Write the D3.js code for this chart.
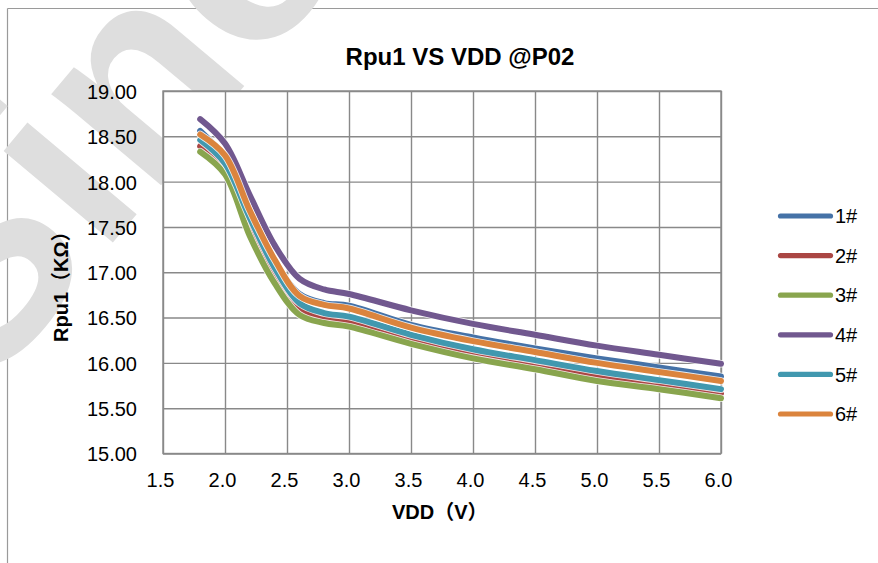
<!DOCTYPE html>
<html>
<head>
<meta charset="utf-8">
<script src="https://cdn.jsdelivr.net/npm/d3@7/dist/d3.min.js"></script>
<style>
  html, body { margin: 0; padding: 0; background: #fff; }
  svg { display: block; }
  text { font-family: "Liberation Sans", Arial, "Noto Sans CJK SC", sans-serif; fill: #000; }
</style>
</head>
<body>
<svg id="chart" width="878" height="563"></svg>
<script>
// ---- data ----
const vdd = [1.8, 2.0, 2.2, 2.4, 2.6, 2.8, 3.0, 3.5, 4.0, 4.5, 5.0, 5.5, 6.0];
const s1 = [18.56, 18.26, 17.66, 17.12, 16.76, 16.66, 16.63, 16.42, 16.28, 16.16, 16.05, 15.95, 15.85];
const s2 = [18.39, 18.15, 17.52, 16.98, 16.60, 16.49, 16.46, 16.26, 16.10, 15.98, 15.86, 15.76, 15.66];
const s3 = [18.33, 18.08, 17.40, 16.88, 16.53, 16.44, 16.40, 16.21, 16.05, 15.93, 15.80, 15.71, 15.61];
const s4 = [18.69, 18.42, 17.85, 17.30, 16.93, 16.81, 16.76, 16.58, 16.43, 16.31, 16.19, 16.09, 15.99];
const s5 = [18.46, 18.20, 17.60, 17.05, 16.66, 16.55, 16.51, 16.31, 16.15, 16.03, 15.91, 15.81, 15.71];
const s6 = [18.52, 18.29, 17.68, 17.14, 16.74, 16.64, 16.60, 16.39, 16.24, 16.12, 16.00, 15.90, 15.80];
const seriesNames = ["1#", "2#", "3#", "4#", "5#", "6#"];
const seriesValues = [s1, s2, s3, s4, s5, s6];
const xTicks = [1.5, 2.0, 2.5, 3.0, 3.5, 4.0, 4.5, 5.0, 5.5, 6.0];
const yTicks = [15.0, 15.5, 16.0, 16.5, 17.0, 17.5, 18.0, 18.5, 19.0];
const titleText = "Rpu1 VS VDD @P02";
const xTitle = "VDD（V）";
const yTitle = "Rpu1（KΩ）";
const watermarkText = "Sino";

// ---- style ----
const colors = ["#4572A7", "#AA4643", "#89A54E", "#71588F", "#4198AF", "#DB843D"];
const svg = d3.select("#chart");
const L = 163, R = 721, T = 91, B = 453.5;

const x = d3.scaleLinear().domain([1.5, 6.0]).range([L, R]);
const y = d3.scaleLinear().domain([15, 19]).range([B, T]);

// outer frame
svg.append("line").attr("x1", 7.5).attr("y1", 8.5).attr("x2", 878).attr("y2", 8.5)
  .attr("stroke", "#9a9a9a").attr("stroke-width", 1.2);
svg.append("line").attr("x1", 7.5).attr("y1", 8.5).attr("x2", 7.5).attr("y2", 563)
  .attr("stroke", "#9a9a9a").attr("stroke-width", 1.2);

// watermark (behind the white plot area)
svg.append("text")
  .attr("transform", "translate(-15,395) rotate(-50)")
  .attr("font-size", 270).attr("font-weight", "bold")
  .style("fill", "#dedede")
  .text(watermarkText);

// plot area
svg.append("rect").attr("x", L).attr("y", T).attr("width", R - L).attr("height", B - T)
  .attr("fill", "#fff");

// axes / grid
const gx = svg.append("g").attr("transform", `translate(0,${B})`)
  .call(d3.axisBottom(x).tickValues(xTicks).tickFormat(d3.format(".1f"))
    .tickSizeInner(-(B - T)).tickSizeOuter(0));
gx.select(".domain").remove();
gx.selectAll("line").attr("stroke", "#898989").attr("stroke-width", 1.4);
gx.selectAll("text").attr("y", 33).attr("dy", 0).attr("x", -3)
  .attr("font-size", 20).style("font-family", "'Liberation Sans', Arial, sans-serif").style("fill", "#000");

const gy = svg.append("g").attr("transform", `translate(${L},0)`)
  .call(d3.axisLeft(y).tickValues(yTicks).tickFormat(d3.format(".2f"))
    .tickSizeInner(-(R - L)).tickSizeOuter(0));
gy.select(".domain").remove();
gy.selectAll("line").attr("stroke", "#898989").attr("stroke-width", 1.4);
gy.selectAll("text").attr("x", -26).attr("dy", "0.37em")
  .attr("font-size", 20).style("font-family", "'Liberation Sans', Arial, sans-serif").style("fill", "#000");

svg.append("rect").attr("x", L).attr("y", T).attr("width", R - L).attr("height", B - T)
  .attr("fill", "none").attr("stroke", "#898989").attr("stroke-width", 1.4);

// lines
const line = d3.line().x(d => x(d[0])).y(d => y(d[1])).curve(d3.curveCatmullRom.alpha(0.5));
seriesValues.forEach((vals, i) => {
  const pts = vdd.map((v, j) => [v, vals[j]]);
  svg.append("path").attr("d", line(pts)).attr("fill", "none")
    .attr("stroke", "#ffffff").attr("stroke-opacity", 0.85).attr("stroke-width", 7.6)
    .attr("stroke-linecap", "round").attr("stroke-linejoin", "round");
  svg.append("path").attr("d", line(pts)).attr("fill", "none")
    .attr("stroke", colors[i]).attr("stroke-width", 6)
    .attr("stroke-linecap", "round").attr("stroke-linejoin", "round");
});

// legend
const legY0 = 216, legStep = 39.6;
seriesNames.forEach((name, i) => {
  const yy = legY0 + i * legStep;
  svg.append("line").attr("x1", 780.5).attr("x2", 830.5).attr("y1", yy).attr("y2", yy)
    .attr("stroke", colors[i]).attr("stroke-width", 5.2).attr("stroke-linecap", "round");
  svg.append("text").attr("x", 835).attr("y", yy + 7.2).attr("font-size", 20).text(name);
});

// titles
svg.append("text").attr("x", 460).attr("y", 65).attr("text-anchor", "middle")
  .attr("font-size", 24).attr("font-weight", "bold").text(titleText);
svg.append("text").attr("x", 392).attr("y", 519).attr("font-size", 20)
  .attr("font-weight", "bold").text(xTitle);
svg.append("text").attr("transform", "translate(68,342) rotate(-90)")
  .attr("font-size", 20).attr("font-weight", "bold").text(yTitle);
</script>
</body>
</html>
